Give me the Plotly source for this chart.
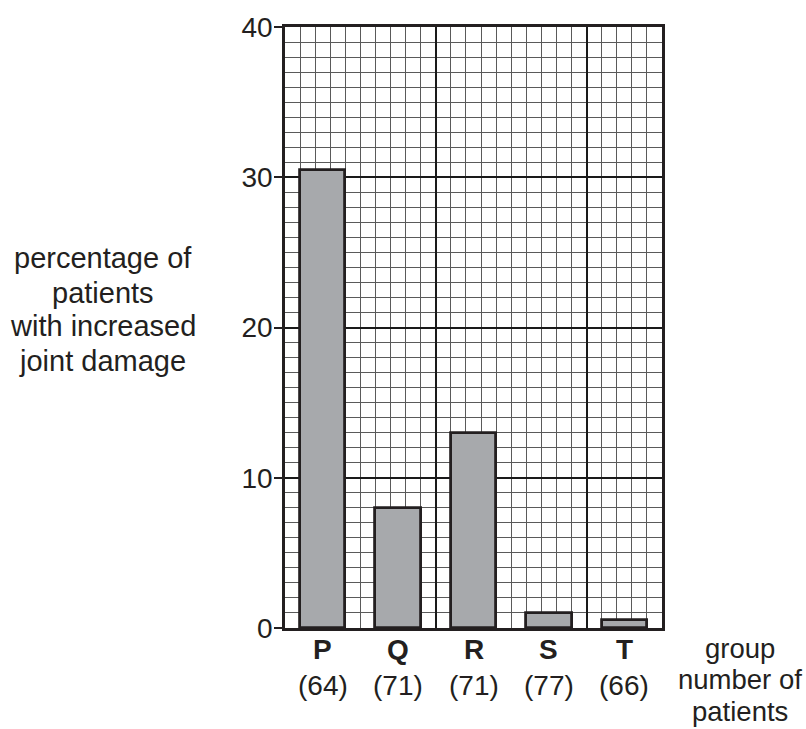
import plotly.graph_objects as go

groups = ["P", "Q", "R", "S", "T"]
patients = [64, 71, 71, 77, 66]
percent_damage = [30.5, 8, 13, 1, 0.5]
y_ticks = [0, 10, 20, 30, 40]
y_title_lines = ["percentage of", "patients", "with increased", "joint damage"]
x_title_lines = ["group", "number of", "patients"]

FONT = "Liberation Sans, Arial, Helvetica, sans-serif"
INK = "#231f20"
SLOT = 5  # x units per group slot on the graph paper
centers = [i * SLOT + SLOT / 2 for i in range(len(groups))]

fig = go.Figure()
fig.add_trace(go.Bar(
    x=centers, y=percent_damage, width=3,
    marker=dict(color="#a7a9ac", line=dict(color=INK, width=2.8)),
    hoverinfo="skip", showlegend=False,
))

for cx, g, n in zip(centers, groups, patients):
    fig.add_annotation(x=cx, xref="x", y=-0.0363, yref="paper", text=f"<b>{g}</b>",
                       showarrow=False, xanchor="center", yanchor="middle",
                       font=dict(family=FONT, size=28, color=INK))
    fig.add_annotation(x=cx, xref="x", y=-0.0957, yref="paper", text=f"({n})",
                       showarrow=False, xanchor="center", yanchor="middle",
                       font=dict(family=FONT, size=28, color=INK))

for txt, yy in zip(x_title_lines, [-0.0335, -0.0865, -0.1395]):
    fig.add_annotation(x=1.2069, xref="paper", y=yy, yref="paper", text=txt,
                       showarrow=False, xanchor="center", yanchor="middle",
                       font=dict(family=FONT, size=27.5, color=INK))

for txt, yy in zip(y_title_lines, [0.6155, 0.5578, 0.5017, 0.4439]):
    fig.add_annotation(x=-0.4828, xref="paper", y=yy, yref="paper", text=txt,
                       showarrow=False, xanchor="center", yanchor="middle",
                       font=dict(family=FONT, size=29, color=INK))

fig.update_layout(
    width=806, height=729,
    margin=dict(l=285, r=144, t=22, b=101),
    paper_bgcolor="white", plot_bgcolor="white",
    bargap=0,
    font=dict(family=FONT, size=28, color=INK),
)
fig.update_xaxes(
    range=[0, SLOT * len(groups)], tick0=0, dtick=10,
    showgrid=True, gridcolor="#1a1a1a", gridwidth=2,
    minor=dict(dtick=1, showgrid=True, gridcolor="#5a5a5a", gridwidth=1.2),
    showticklabels=False, ticks="", zeroline=False,
    showline=True, linecolor=INK, linewidth=2.5, mirror=True,
)
fig.update_yaxes(
    range=[0, 40], tickvals=y_ticks, ticktext=[str(v) for v in y_ticks],
    showgrid=True, gridcolor="#1a1a1a", gridwidth=2,
    minor=dict(dtick=1, showgrid=True, gridcolor="#5a5a5a", gridwidth=1.2),
    ticks="outside", ticklen=8, tickwidth=1.5, tickcolor=INK,
    ticklabelstandoff=-4,
    tickfont=dict(family=FONT, size=28, color=INK),
    zeroline=False,
    showline=True, linecolor=INK, linewidth=2.5, mirror=True,
)

fig.write_html("out.html", config={"displayModeBar": False},
               post_script="document.body.style.margin='0';document.body.style.overflow='hidden';")
